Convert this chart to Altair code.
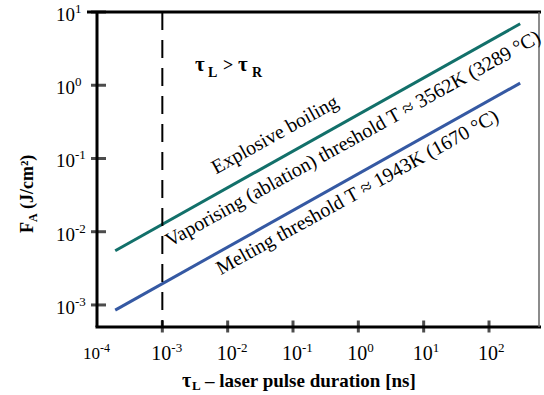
import altair as alt
import pandas as pd

# Pulse duration (ns) at the two ends of each threshold line
tau_ns = [1.9e-4, 300]
# Fluence thresholds F_A (J/cm^2) at those durations (both scale as tau^0.5)
vaporising_F = [5.5e-3, 6.9]
melting_F = [8.5e-4, 1.07]
series = ["Vaporising", "Melting"]
series_colors = ["#12706a", "#3559a3"]

# tau_L = tau_R boundary
boundary_tau = [1e-3]

# Axis decades
x_exponents = [-4, -3, -2, -1, 0, 1, 2]
y_exponents = [-3, -2, -1, 0, 1]

# Labels written along the lines
label_text = [
    "Explosive boiling",
    "Vaporising (ablation) threshold T \u2248 3562K (3289 \u00b0C)",
    "Melting threshold T \u2248 1943K (1670 \u00b0C)",
]
label_tau = [0.053, 0.83, 0.97]
label_F = [0.21, 0.185, 0.0343]

W, H = 444, 315
SERIF = "Liberation Serif"
xs = alt.Scale(type="log", domain=[1e-4, 625], nice=False)
ys = alt.Scale(type="log", domain=[5e-4, 10], nice=False)
ONE = pd.DataFrame({"k": [0]})


def X(field="tau"):
    return alt.X(f"{field}:Q", scale=xs, axis=None)


def Y(field="F"):
    return alt.Y(f"{field}:Q", scale=ys, axis=None)


def text_at(s, x, y, size, bold=False, align="left", angle=None, dx=0, dy=0):
    props = dict(text=s, font=SERIF, fontSize=size,
                 fontWeight="bold" if bold else "normal",
                 align=align, baseline="alphabetic", color="black", dx=dx, dy=dy)
    if angle is not None:
        props["angle"] = angle
    return alt.Chart(ONE).mark_text(**props).encode(x=alt.value(x), y=alt.value(y))


def rule(x, y, x2=None, y2=None, width=3, color="black"):
    enc = dict(x=alt.value(x), y=alt.value(y))
    if x2 is not None:
        enc["x2"] = alt.value(x2)
    if y2 is not None:
        enc["y2"] = alt.value(y2)
    return alt.Chart(ONE).mark_rule(strokeWidth=width, color=color).encode(**enc)


lines_df = pd.DataFrame({
    "tau": tau_ns * 2,
    "F": vaporising_F + melting_F,
    "series": [series[0]] * 2 + [series[1]] * 2,
})
lines = alt.Chart(lines_df).mark_line(strokeWidth=3).encode(
    x=X(), y=Y(),
    color=alt.Color("series:N", scale=alt.Scale(domain=series, range=series_colors), legend=None),
)

boundary = alt.Chart(pd.DataFrame({"tau": boundary_tau})).mark_rule(
    strokeDash=[18, 10], strokeWidth=2, color="black"
).encode(x=X())

# frame: heavy left/bottom axes, heavy top edge, light right edge
frame = [
    rule(0, 0, y2=H),
    rule(-1.5, H, x2=W),
    rule(-10, 0, x2=W),
    rule(W - 2, 0, y2=H, width=1.5, color="#666666"),
]

# crossing tick marks
xt_df = pd.DataFrame({"tau": [10.0 ** e for e in x_exponents[1:]]})
x_ticks = alt.Chart(xt_df).mark_tick(orient="vertical", size=12, thickness=3, color="black").encode(
    x=X(), y=alt.value(H - 0.5))
yt_df = pd.DataFrame({"F": [10.0 ** e for e in y_exponents]})
y_ticks = alt.Chart(yt_df).mark_tick(orient="horizontal", size=15, thickness=3, color="black").encode(
    y=Y(), x=alt.value(1.5))

# tick labels: "10" with a raised exponent
xl_df = pd.DataFrame({
    "tau": [10.0 ** e for e in x_exponents],
    "base": ["10"] * len(x_exponents),
    "exp": [str(e) for e in x_exponents],
})
xl_main = xl_df[xl_df["tau"] > 2e-4]
xl_first = xl_df[xl_df["tau"] < 2e-4]
x_labels = [
    alt.Chart(xl_main).mark_text(font=SERIF, fontSize=20, align="right", dx=9, baseline="alphabetic", color="black")
    .encode(x=X(), y=alt.value(348), text="base:N"),
    alt.Chart(xl_main).mark_text(font=SERIF, fontSize=13, align="left", dx=9, baseline="alphabetic", color="black")
    .encode(x=X(), y=alt.value(340), text="exp:N"),
    alt.Chart(xl_first).mark_text(font=SERIF, fontSize=17, align="right", dx=3, baseline="alphabetic", color="black")
    .encode(x=X(), y=alt.value(347), text="base:N"),
    alt.Chart(xl_first).mark_text(font=SERIF, fontSize=12, align="left", dx=3, baseline="alphabetic", color="black")
    .encode(x=X(), y=alt.value(340), text="exp:N"),
]

yl_df = pd.DataFrame({
    "F": [10.0 ** e for e in y_exponents],
    "base": ["10"] * len(y_exponents),
    "exp": [str(e) for e in y_exponents],
})
y_labels = [
    alt.Chart(yl_df).mark_text(font=SERIF, fontSize=19, align="left", dy=9, baseline="alphabetic", color="black")
    .encode(y=Y(), x=alt.value(-41), text="base:N"),
    alt.Chart(yl_df).mark_text(font=SERIF, fontSize=13, align="left", dy=1, baseline="alphabetic", color="black")
    .encode(y=Y(), x=alt.value(-22), text="exp:N"),
]

# labels along the threshold lines
ann_df = pd.DataFrame({"tau": label_tau, "F": label_F, "label": label_text})
annotations = alt.Chart(ann_df).mark_text(
    font=SERIF, fontSize=20, angle=331, align="center", baseline="middle", color="black"
).encode(x=X(), y=Y(), text="label:N")

# tau_L > tau_R
regime = [
    text_at("\u03c4", 98, 59, 21, bold=True),
    text_at("L", 111, 65, 14, bold=True),
    text_at(">", 126, 59, 18, bold=True),
    text_at("\u03c4", 141, 59, 21, bold=True),
    text_at("R", 155, 65, 14, bold=True),
]

# axis titles
x_title = [
    text_at("\u03c4", 85, 375, 20, bold=True),
    text_at("L", 95, 378, 13, bold=True),
    text_at("\u2013 laser pulse duration [ns]", 108, 375, 19, bold=True),
]
y_title = [
    text_at("F", -64, 221, 18, bold=True, angle=270),
    text_at("A", -64, 221, 12, bold=True, angle=270, dx=11, dy=4),
    text_at("(J/cm\u00b2)", -64, 221, 18, bold=True, angle=270, dx=24),
]

chart = alt.layer(
    lines, boundary, *frame, x_ticks, y_ticks, *x_labels, *y_labels,
    annotations, *regime, *x_title, *y_title,
).properties(
    width=W, height=H,
    autosize=alt.AutoSizeParams(type="none"),
    padding={"left": 97, "top": 12, "right": 3, "bottom": 68},
    background="white",
).configure_view(stroke=None)

chart.save("out.html", embed_options={"renderer": "svg", "actions": False})
